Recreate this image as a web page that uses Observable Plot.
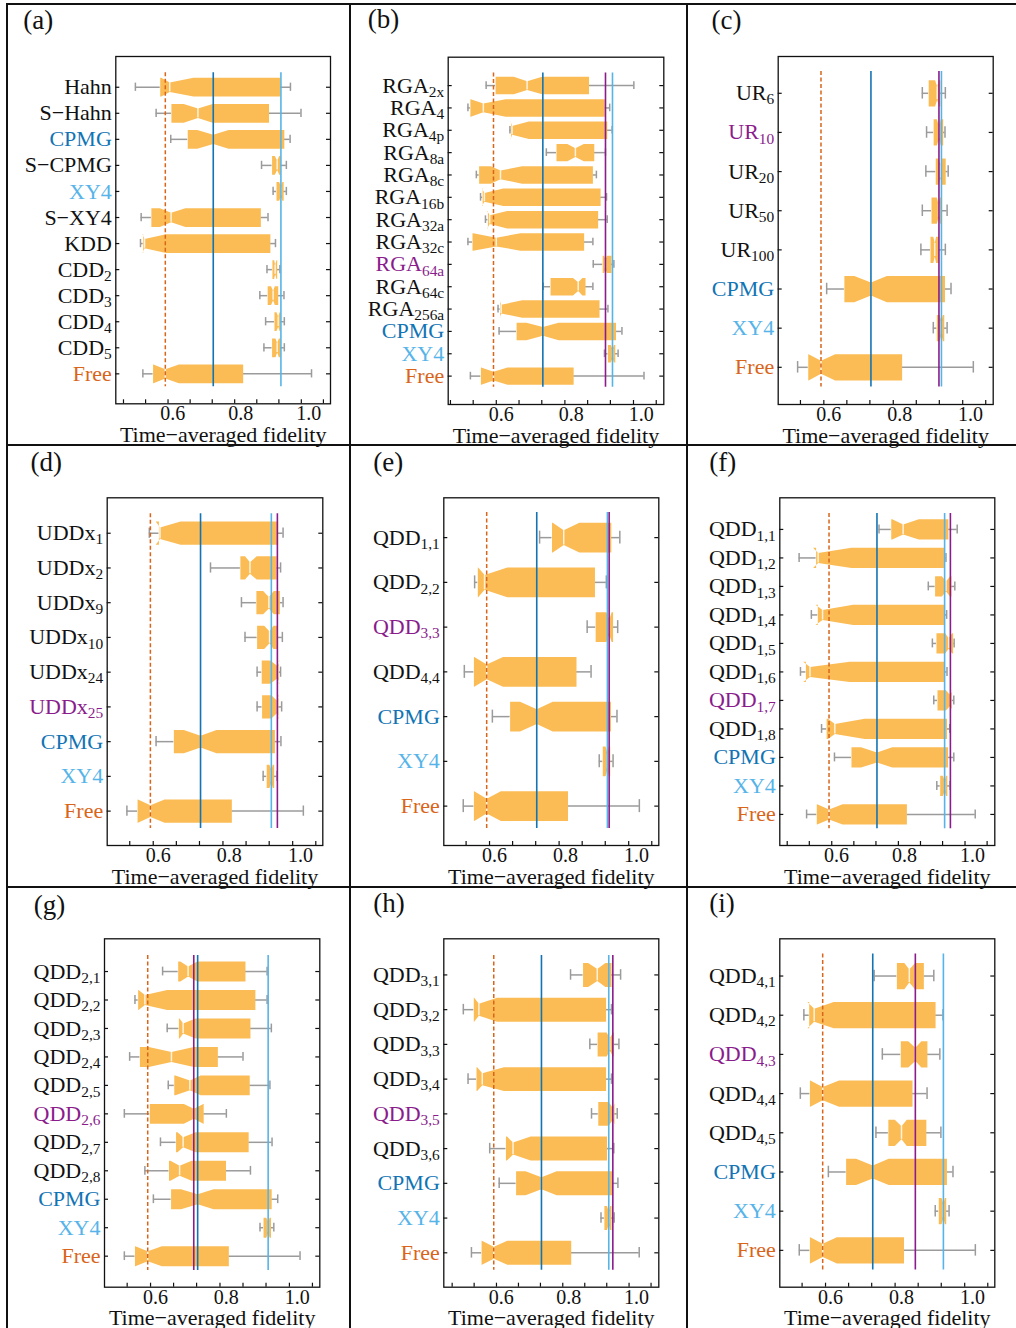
<!DOCTYPE html>
<html><head><meta charset="utf-8">
<script src="https://cdn.jsdelivr.net/npm/d3@7"></script>
<script src="https://cdn.jsdelivr.net/npm/@observablehq/plot@0.6"></script>
<style>
html,body{margin:0;padding:0;background:#fff;}
body{width:1016px;height:1328px;position:relative;overflow:hidden;font-family:"Liberation Serif",serif;}
.cell{position:absolute;overflow:visible;}
.cell svg{overflow:visible;}
.gl{position:absolute;background:#111;}
</style></head><body>
<script>
// ---------- data: [whisker low, q1, notch low, median, notch high, q3, whisker high] ----------
const CPMG = [0.594, 0.644, 0.672, 0.719, 0.764, 0.928, 0.945];
const XY4  = [0.895, 0.905, 0.913, 0.918, 0.922, 0.926, 0.934];
const FREE = [0.512, 0.542, 0.543, 0.578, 0.618, 0.807, 1.008];

const labelsA = ["Hahn","S−Hahn","CPMG","S−CPMG","XY4","S−XY4","KDD","CDD_2","CDD_3","CDD_4","CDD_5","Free"];
const boxesA = [
 [0.490,0.563,0.566,0.591,0.661,0.916,0.946],
 [0.551,0.596,0.632,0.674,0.717,0.883,0.977],
 CPMG,
 [0.861,0.892,0.900,0.907,0.913,0.917,0.934],
 XY4,
 [0.507,0.537,0.562,0.595,0.637,0.859,0.880],
 [0.505,0.513,0.511,0.517,0.580,0.887,0.902],
 [0.877,0.893,0.898,0.901,0.905,0.907,0.915],
 [0.856,0.879,0.889,0.895,0.900,0.910,0.927],
 [0.873,0.899,0.905,0.910,0.914,0.917,0.928],
 [0.868,0.892,0.902,0.907,0.912,0.917,0.928],
 FREE];
const bestA = null;

const labelsB = ["RGA_2x","RGA_4","RGA_4p","RGA_8a","RGA_8c","RGA_16b","RGA_32a","RGA_32c","RGA_64a","RGA_64c","RGA_256a","CPMG","XY4","Free"];
const boxesB = [
 [0.557,0.584,0.636,0.674,0.717,0.851,0.979],
 [0.505,0.512,0.513,0.549,0.613,0.896,0.910],
 [0.625,0.628,0.627,0.631,0.679,0.903,0.917],
 [0.729,0.758,0.789,0.812,0.836,0.866,0.898],
 [0.529,0.537,0.570,0.598,0.660,0.862,0.872],
 [0.541,0.547,0.545,0.552,0.606,0.884,0.901],
 [0.555,0.562,0.560,0.567,0.617,0.877,0.903],
 [0.505,0.518,0.520,0.586,0.655,0.837,0.862],
 [0.863,0.890,0.894,0.898,0.902,0.915,0.922],
 [0.720,0.741,0.805,0.820,0.832,0.841,0.862],
 [0.591,0.597,0.596,0.600,0.660,0.881,0.905],
 CPMG, XY4, FREE];
const bestB = "RGA_64a";

const labelsC = ["UR_6","UR_10","UR_20","UR_50","UR_100","CPMG","XY4","Free"];
const boxesC = [
 [0.864,0.882,0.900,0.906,0.911,0.915,0.929],
 [0.876,0.896,0.905,0.911,0.916,0.923,0.928],
 [0.874,0.902,0.910,0.915,0.920,0.930,0.937],
 [0.864,0.890,0.905,0.910,0.914,0.918,0.934],
 [0.860,0.887,0.895,0.899,0.903,0.911,0.929],
 CPMG, XY4, FREE];
const bestC = "UR_10";

const labelsD = ["UDDx_1","UDDx_2","UDDx_9","UDDx_10","UDDx_24","UDDx_25","CPMG","XY4","Free"];
const boxesD = [
 [0.575,0.602,0.593,0.605,0.663,0.937,0.951],
 [0.747,0.831,0.844,0.858,0.877,0.933,0.944],
 [0.834,0.876,0.895,0.911,0.925,0.942,0.951],
 [0.844,0.878,0.898,0.913,0.924,0.935,0.949],
 [0.878,0.891,0.915,0.936,0.941,0.939,0.944],
 [0.878,0.892,0.918,0.935,0.940,0.938,0.947],
 CPMG, XY4, FREE];
const bestD = "UDDx_25";

const labelsE = ["QDD_1,1","QDD_2,2","QDD_3,3","QDD_4,4","CPMG","XY4","Free"];
const boxesE = [
 [0.727,0.762,0.764,0.795,0.839,0.929,0.953],
 [0.544,0.553,0.554,0.572,0.636,0.883,0.915],
 [0.861,0.885,0.915,0.923,0.930,0.934,0.947],
 [0.515,0.542,0.543,0.578,0.624,0.831,0.872],
 CPMG, XY4, FREE];
const bestE = "QDD_3,3";

const labelsF = ["QDD_1,1","QDD_1,2","QDD_1,3","QDD_1,4","QDD_1,5","QDD_1,6","QDD_1,7","QDD_1,8","CPMG","XY4","Free"];
const boxesF = [
 [0.725,0.761,0.764,0.796,0.842,0.929,0.955],
 [0.490,0.540,0.531,0.546,0.644,0.916,0.922],
 [0.870,0.890,0.910,0.922,0.934,0.938,0.948],
 [0.526,0.545,0.538,0.559,0.649,0.919,0.924],
 [0.882,0.894,0.920,0.930,0.940,0.943,0.946],
 [0.494,0.510,0.502,0.522,0.639,0.919,0.925],
 [0.886,0.897,0.922,0.935,0.940,0.939,0.945],
 [0.556,0.571,0.575,0.595,0.683,0.925,0.933],
 CPMG, XY4, FREE];
const bestF = "QDD_1,7";

const labelsG = ["QDD_2,1","QDD_2,2","QDD_2,3","QDD_2,4","QDD_2,5","QDD_2,6","QDD_2,7","QDD_2,8","CPMG","XY4","Free"];
const boxesG = [
 [0.620,0.664,0.670,0.692,0.718,0.854,0.915],
 [0.542,0.551,0.552,0.570,0.633,0.882,0.915],
 [0.633,0.666,0.668,0.678,0.713,0.868,0.927],
 [0.527,0.556,0.581,0.645,0.708,0.776,0.847],
 [0.636,0.653,0.656,0.697,0.727,0.866,0.923],
 [0.512,0.584,0.680,0.708,0.735,0.736,0.800],
 [0.614,0.658,0.662,0.678,0.713,0.863,0.929],
 [0.570,0.638,0.642,0.668,0.702,0.799,0.868],
 CPMG, XY4, FREE];
const bestG = "QDD_2,6";

const labelsH = ["QDD_3,1","QDD_3,2","QDD_3,3","QDD_3,4","QDD_3,5","QDD_3,6","CPMG","XY4","Free"];
const boxesH = [
 [0.805,0.842,0.857,0.884,0.908,0.926,0.953],
 [0.488,0.519,0.520,0.534,0.588,0.910,0.926],
 [0.862,0.885,0.912,0.921,0.930,0.933,0.948],
 [0.502,0.527,0.529,0.544,0.608,0.910,0.926],
 [0.867,0.887,0.918,0.930,0.936,0.935,0.943],
 [0.566,0.614,0.617,0.635,0.687,0.913,0.933],
 CPMG, XY4, FREE];
const bestH = "QDD_3,5";

const labelsI = ["QDD_4,1","QDD_4,2","QDD_4,3","QDD_4,4","QDD_4,5","CPMG","XY4","Free"];
const boxesI = [
 [0.723,0.787,0.808,0.822,0.838,0.863,0.891],
 [0.525,0.540,0.535,0.554,0.609,0.896,0.917],
 [0.746,0.798,0.819,0.839,0.856,0.873,0.908],
 [0.515,0.542,0.543,0.578,0.624,0.831,0.872],
 [0.728,0.763,0.781,0.800,0.815,0.870,0.911],
 CPMG, XY4, FREE];
const bestI = "QDD_4,3";

const xTickLabels = [0.6, 0.8, 1.0];
const xMinorTicks = [0.455,0.520,0.586,0.651,0.716,0.782,0.847,0.912,0.978,1.043];
const panelLetters = ["(a)","(b)","(c)","(d)","(e)","(f)","(g)","(h)","(i)"];
const xLabel = "Time−averaged fidelity";

// ---------- styles ----------
const BOX = "#fbbc55", GRAY = "#9b9b9b", ORANGE = "#d9651b", BLUE = "#1274b4", LBLUE = "#56b4e9", PURPLE = "#8a1c8c", INK = "#111";
const FONT = '"Liberation Serif", "Times New Roman", serif';

const panels = [
 {labels: labelsA, boxes: boxesA, best: bestA, cell:[7,4,350,445], frame:[115.3,56,330,403.3], xdom:[0.4324,1.0638], pt:1.18, pb:1.15, bf:0.72, letter:[22.7,28]},
 {labels: labelsB, boxes: boxesB, best: bestB, cell:[350,4,687,445], frame:[447.7,56.7,663.3,404], xdom:[0.4486,1.0646], pt:1.27, pb:1.27, bf:0.78, letter:[367.3,27]},
 {labels: labelsC, boxes: boxesC, best: bestC, cell:[687,4,1016,445], frame:[777.7,56,992.7,404], xdom:[0.4572,1.0641], pt:0.94, pb:0.95, bf:0.67, letter:[711,28]},
 {labels: labelsD, boxes: boxesD, best: bestD, cell:[7,445,350,887], frame:[106.7,497.3,322.3,845], xdom:[0.4566,1.0627], pt:1.02, pb:0.99, bf:0.67, letter:[30,470]},
 {labels: labelsE, boxes: boxesE, best: bestE, cell:[350,445,687,887], frame:[443.3,497.3,658.3,845], xdom:[0.4572,1.0628], pt:0.89, pb:0.88, bf:0.66, letter:[372.7,470.5]},
 {labels: labelsF, boxes: boxesF, best: bestF, cell:[687,445,1016,887], frame:[779.3,497.3,994.3,845], xdom:[0.4332,1.0656], pt:1.11, pb:1.09, bf:0.71, letter:[708.7,470.5]},
 {labels: labelsG, boxes: boxesG, best: bestG, cell:[7,887,350,1328], frame:[104,938.3,319.3,1286.7], xdom:[0.456,1.0638], pt:1.15, pb:1.09, bf:0.70, letter:[33.3,913]},
 {labels: labelsH, boxes: boxesH, best: bestH, cell:[350,887,687,1328], frame:[443.3,938.3,658.3,1286.7], xdom:[0.4303,1.0659], pt:1.04, pb:0.99, bf:0.69, letter:[372.7,911.5]},
 {labels: labelsI, boxes: boxesI, best: bestI, cell:[687,887,1016,1328], frame:[779.3,938.3,994.3,1286.7], xdom:[0.4572,1.0628], pt:0.95, pb:0.94, bf:0.67, letter:[708.7,911.5]},
];

function colorOf(lab, best) {
  if (lab === "CPMG") return BLUE;
  if (lab === "XY4") return LBLUE;
  if (lab === "Free") return ORANGE;
  if (lab === best) return PURPLE;
  return INK;
}

function subscripts(svg) {
  d3.select(svg).selectAll("text").each(function () {
    const t = this.textContent;
    const k = t.indexOf("_");
    if (k < 0) return;
    const el = d3.select(this);
    el.text(null);
    el.append("tspan").text(t.slice(0, k));
    el.append("tspan").attr("font-size", "0.7em").attr("dy", "0.27em").text(t.slice(k + 1));
  });
}

panels.forEach((P, idx) => {
  const [cl, ct, cr, cb] = P.cell, [fl, ft, fr, fb] = P.frame;
  const W = cr - cl, H = cb - ct, fW = fr - fl, fH = fb - ft;
  const n = P.labels.length;
  const h = P.bf / 2, hn = h / 2, hc = P.bf * 0.22;
  const rows = P.labels.map((lab, i) => {
    const [wlo, q1, cilo, med, cihi, q3, whi] = P.boxes[i];
    return {i, lab, wlo, q1, cilo, med, cihi, q3, whi, color: colorOf(lab, P.best)};
  });
  const verts = rows.flatMap(r => [
    [r.q1, r.i - h], [r.cilo, r.i - h], [r.med, r.i - hn], [r.cihi, r.i - h], [r.q3, r.i - h],
    [r.q3, r.i + h], [r.cihi, r.i + h], [r.med, r.i + hn], [r.cilo, r.i + h], [r.q1, r.i + h]
  ].map(([x, y]) => ({x, y, k: r.i})));
  const byLab = l => rows.find(r => r.lab === l);
  const refs = [
    {v: byLab("CPMG").med, c: BLUE},
    {v: byLab("XY4").med, c: LBLUE}
  ];
  if (P.best) refs.push({v: byLab(P.best).med, c: PURPLE});
  const y1 = -0.56, y2 = n - 1 + 0.5;
  const ticks = xMinorTicks.filter(t => t > P.xdom[0] && t < P.xdom[1]);

  const svg = Plot.plot({
    width: W, height: H,
    marginLeft: fl - cl, marginRight: cr - fr, marginTop: ft - ct, marginBottom: cb - fb,
    style: {fontFamily: FONT, fontSize: "22px", color: INK, background: "none", overflow: "visible"},
    x: {domain: P.xdom, axis: null},
    y: {domain: [n - 1 + P.pb, -P.pt], axis: null},
    color: {type: "identity"},
    marks: [
      Plot.ruleY(rows, {y: "i", x1: "wlo", x2: "q1", stroke: GRAY, strokeWidth: 1.5}),
      Plot.ruleY(rows, {y: "i", x1: "q3", x2: "whi", stroke: GRAY, strokeWidth: 1.5}),
      Plot.ruleX(rows, {x: "wlo", y1: d => d.i - hc, y2: d => d.i + hc, stroke: GRAY, strokeWidth: 1.5}),
      Plot.ruleX(rows, {x: "whi", y1: d => d.i - hc, y2: d => d.i + hc, stroke: GRAY, strokeWidth: 1.5}),
      Plot.line(verts, {x: "x", y: "y", z: "k", fill: BOX, stroke: "none", curve: "linear-closed"}),
      Plot.ruleX(rows, {x: "med", y1: d => d.i - hn, y2: d => d.i + hn, stroke: "#fff", strokeOpacity: 0.8, strokeWidth: 1.5}),
      Plot.ruleX([byLab("Free").med], {x: d => d, y1: y1, y2: y2, stroke: ORANGE, strokeWidth: 1.5, strokeDasharray: "4,2.5"}),
      Plot.ruleX(refs, {x: "v", y1: y1, y2: y2, stroke: "c", strokeWidth: 1.6}),
      Plot.frame({stroke: INK, strokeWidth: 1.3}),
      Plot.ruleY(rows, {y: "i", insetRight: fW - 4, stroke: INK, strokeWidth: 1.2}),
      Plot.ruleY(rows, {y: "i", insetLeft: fW - 4, stroke: INK, strokeWidth: 1.2}),
      Plot.ruleX(ticks, {x: d => d, insetTop: fH - 4, stroke: INK, strokeWidth: 1.2}),
      Plot.text(rows, {y: "i", frameAnchor: "left", text: "lab", fill: "color", textAnchor: "end", lineAnchor: "middle", dx: -4, fontSize: 22}),
      Plot.text(xTickLabels, {x: d => d, frameAnchor: "bottom", lineAnchor: "middle", dy: 10, text: d => d.toFixed(1), fontSize: 20, fill: INK}),
      Plot.text([xLabel], {frameAnchor: "bottom", lineAnchor: "middle", dy: 31, text: d => d, fontSize: 22, fill: INK}),
      Plot.text([panelLetters[idx]], {frameAnchor: "top-left", lineAnchor: "middle", dx: P.letter[0] - fl, dy: P.letter[1] - ft - 8.6, text: d => d, textAnchor: "start", fontSize: 27, fill: INK})
    ]
  });
  subscripts(svg);
  const div = document.createElement("div");
  div.className = "cell";
  div.style.left = cl + "px"; div.style.top = ct + "px";
  div.style.width = W + "px"; div.style.height = H + "px";
  div.appendChild(svg);
  document.body.appendChild(div);
});

// grid lines between panels
[[6, 3, 2, 1325], [349, 3, 2, 1325], [686, 3, 2, 1325]].forEach(([x, y, w, hh]) => {
  const d = document.createElement("div"); d.className = "gl";
  Object.assign(d.style, {left: x + "px", top: y + "px", width: w + "px", height: hh + "px"});
  document.body.appendChild(d);
});
[[6, 3, 1010, 2], [6, 444, 1010, 2], [6, 886, 1010, 2]].forEach(([x, y, w, hh]) => {
  const d = document.createElement("div"); d.className = "gl";
  Object.assign(d.style, {left: x + "px", top: y + "px", width: w + "px", height: hh + "px"});
  document.body.appendChild(d);
});
</script>
</body></html>
